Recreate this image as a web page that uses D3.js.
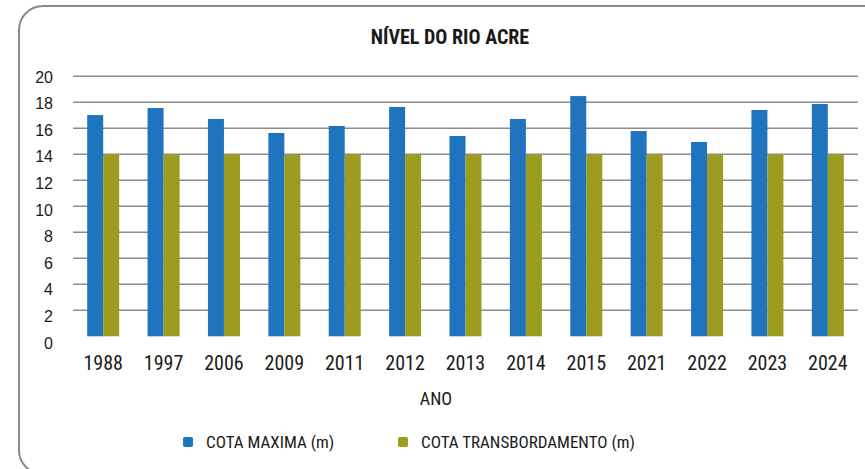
<html>
<head>
<script src="https://d3js.org/d3.v7.min.js"></script>
<style>
  body { margin: 0; background: #fff; }
  text { font-family: "Liberation Sans Narrow", "Roboto Condensed", "DejaVu Sans Condensed", sans-serif; fill: #1a1a1a; }
</style>
</head>
<body>
<svg id="chart" width="865" height="469"></svg>
<script>
// data
var anos = ["1988","1997","2006","2009","2011","2012","2013","2014","2015","2021","2022","2023","2024"];
var cotaMaxima = [17.02, 17.56, 16.72, 15.64, 16.18, 17.64, 15.41, 16.72, 18.48, 15.79, 14.95, 17.41, 17.87];
var cotaTransb = [14, 14, 14, 14, 14, 14, 14, 14, 14, 14, 14, 14, 14];
var series = ["COTA MAXIMA (m)", "COTA TRANSBORDAMENTO (m)"];
var yTicks = [0,2,4,6,8,10,12,14,16,18,20];

var colors = ["#1f74bd", "#9c9c20"];

var svg = d3.select("#chart");

// card border
svg.append("rect")
  .attr("x", 19).attr("y", 6)
  .attr("width", 880).attr("height", 468)
  .attr("rx", 24)
  .attr("fill", "#fff")
  .attr("stroke", "#8a8a8a")
  .attr("stroke-width", 2);

var plotL = 73, plotR = 858, plotT = 76.3, plotB = 336.3;

var x = d3.scaleBand().domain(anos).range([plotL, plotR]).paddingInner(0).paddingOuter(0);
var x1 = d3.scaleBand().domain([0,1]).range([x.bandwidth()/2 - 16, x.bandwidth()/2 + 16]).padding(0);
var y = d3.scaleLinear().domain([0,20]).range([plotB, plotT]);
// tick labels sit slightly off the gridlines in the original
var yLab = d3.scaleLinear().domain([0,20]).range([343, 77]);

// gridlines
svg.append("g").selectAll("line")
  .data(yTicks.filter(function(d){ return d > 0; }))
  .enter().append("line")
  .attr("x1", plotL).attr("x2", plotR)
  .attr("y1", function(d){ return y(d); })
  .attr("y2", function(d){ return y(d); })
  .attr("stroke", "#8c8c8c")
  .attr("stroke-width", 1.5);

// y labels
svg.append("g").selectAll("text")
  .data(yTicks)
  .enter().append("text")
  .attr("x", 53)
  .attr("y", function(d){ return yLab(d); })
  .attr("dy", "0.35em")
  .attr("text-anchor", "end")
  .style("font-family", "'Liberation Sans', Arial, sans-serif")
  .style("font-size", "16px")
  .text(function(d){ return d; });

// bars
var rows = anos.map(function(a, i){ return {ano: a, vals: [cotaMaxima[i], cotaTransb[i]]}; });
var grp = svg.append("g").selectAll("g")
  .data(rows)
  .enter().append("g")
  .attr("transform", function(d){ return "translate(" + x(d.ano) + ",0)"; });

grp.selectAll("rect")
  .data(function(d){ return d.vals.map(function(v, k){ return {k: k, v: v}; }); })
  .enter().append("rect")
  .attr("x", function(d){ return x1(d.k); })
  .attr("width", x1.bandwidth())
  .attr("y", function(d){ return y(d.v); })
  .attr("height", function(d){ return y(0) - y(d.v); })
  .attr("fill", function(d){ return colors[d.k]; });

// x labels
svg.append("g").selectAll("text")
  .data(anos)
  .enter().append("text")
  .attr("x", function(d){ return x(d) + x.bandwidth()/2; })
  .attr("y", 370)
  .attr("text-anchor", "middle")
  .style("font-size", "20px")
  .text(function(d){ return d; });

// title
svg.append("text")
  .attr("x", 450).attr("y", 44)
  .attr("text-anchor", "middle")
  .style("font-size", "20px")
  .style("font-weight", "bold")
  .text("NÍVEL DO RIO ACRE");

// axis title
svg.append("text")
  .attr("x", 436).attr("y", 405)
  .attr("text-anchor", "middle")
  .style("font-size", "18px")
  .text("ANO");

// legend
var legX = [183, 398];
var leg = svg.append("g").selectAll("g")
  .data(series)
  .enter().append("g")
  .attr("transform", function(d, i){ return "translate(" + legX[i] + ",437)"; });
leg.append("rect")
  .attr("width", 10).attr("height", 10).attr("rx", 2)
  .attr("fill", function(d, i){ return colors[i]; });
leg.append("text")
  .attr("x", 23).attr("y", 5)
  .attr("dy", "0.35em")
  .style("font-size", "17px")
  .text(function(d){ return d; });
</script>
</body>
</html>
